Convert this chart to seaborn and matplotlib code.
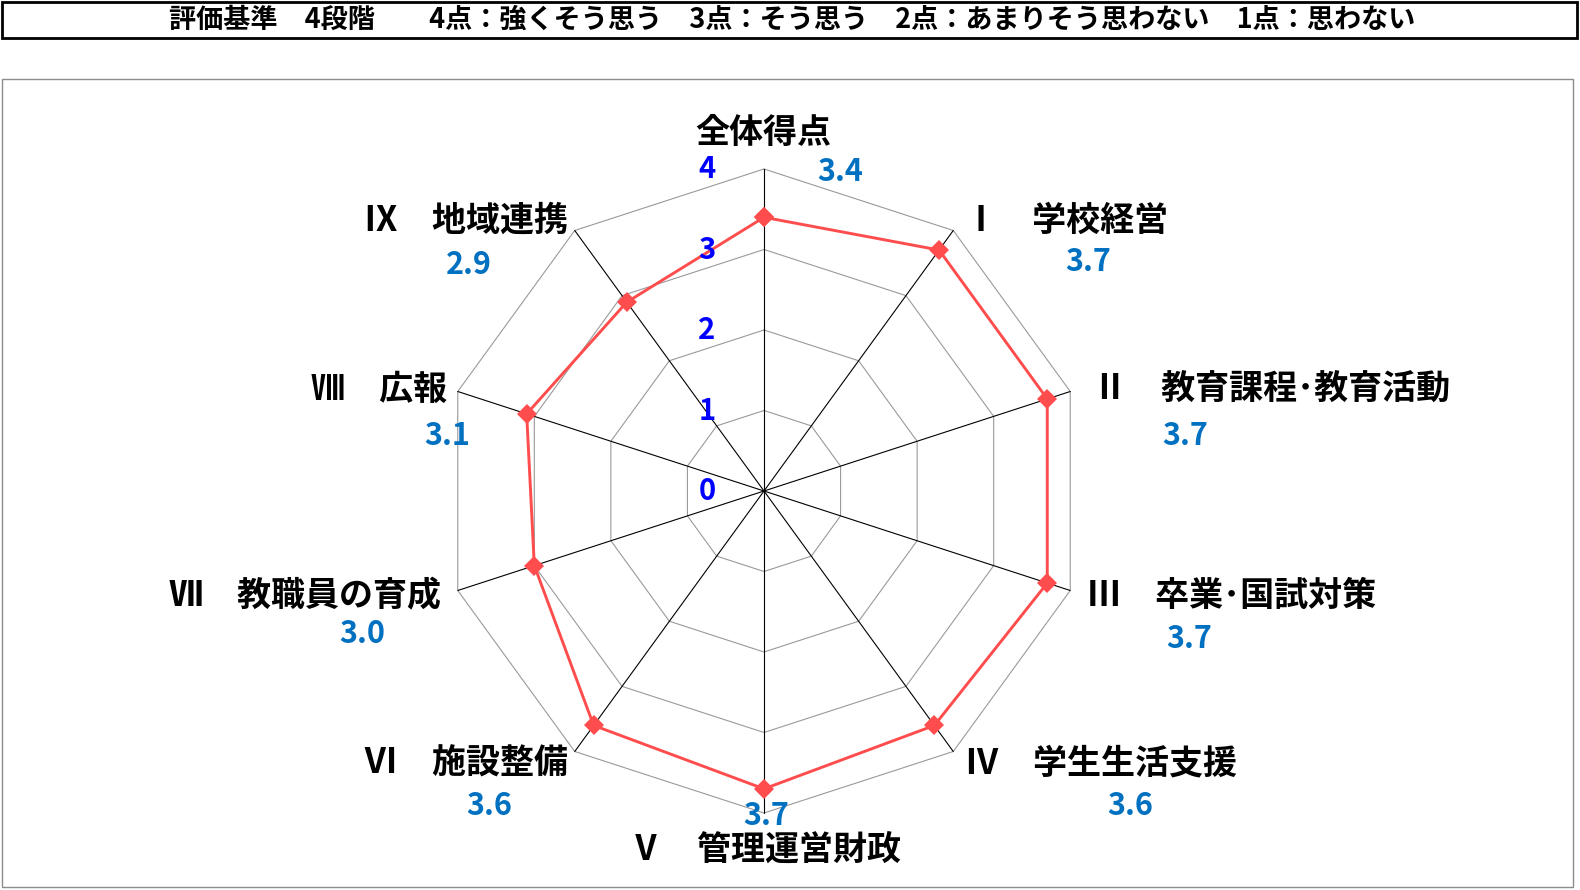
import numpy as np
import pandas as pd
import seaborn as sns
import matplotlib.pyplot as plt
from matplotlib.patches import Rectangle

# data
categories = ["全体得点", "Ⅰ　学校経営", "Ⅱ　教育課程･教育活動", "Ⅲ　卒業･国試対策",
              "Ⅳ　学生生活支援", "Ⅴ　管理運営財政", "Ⅵ　施設整備", "Ⅶ　教職員の育成",
              "Ⅷ　広報", "Ⅸ　地域連携"]
scores = [3.4, 3.7, 3.7, 3.7, 3.6, 3.7, 3.6, 3.0, 3.1, 2.9]
ring_levels = [0, 1, 2, 3, 4]
header = "評価基準　4段階　　4点：強くそう思う　3点：そう思う　2点：あまりそう思わない　1点：思わない"

# label offsets in pixels from each outer vertex (layout only)
label_off = [(-1, 36), (112, 10), (199, 2), (160, -5), (146, -11),
             (1, -36), (-108, -11), (-151, -5), (-78, 2), (-108, 10)]
value_off = [(75, -3), (134, -31), (114, -44), (118, -48), (175, -54),
             (2, -3), (-85, -54), (-95, -43), (-10, -44), (-105, -34)]
k = 1.01

sns.set_theme(style="white")
plt.rcParams['font.family'] = ['Noto Sans CJK JP', 'DejaVu Sans']

n = len(categories)
theta = np.arange(n) * 2 * np.pi / n
theta_closed = np.append(theta, theta[0] + 2 * np.pi)
df = pd.DataFrame({"theta": theta_closed, "score": scores + scores[:1]})

W, H = 1580, 890
fig = plt.figure(figsize=(W / 100, H / 100), dpi=100)

# header box and chart frame
fig.add_artist(Rectangle((2 / W, 1 - 38 / H), 1575 / W, 36 / H,
                         transform=fig.transFigure, fill=False, edgecolor='black', lw=2))
fig.text(792 / W, 1 - 20 / H, header, ha='center', va='center', fontsize=19.5,
         fontweight='bold', color='black')
fig.add_artist(Rectangle((2 / W, 1 - 887 / H), 1571 / W, 808 / H,
                         transform=fig.transFigure, fill=False, edgecolor='#8c8c8c', lw=1))

cx, cy, R = 764, 491, 322
ax = fig.add_axes([(cx - R) / W, (H - cy - R) / H, 2 * R / W, 2 * R / H], projection='polar')
ax.set_theta_zero_location('N')
ax.set_theta_direction(-1)
ax.set_ylim(0, max(ring_levels))
ax.grid(False)
ax.set_xticks([])
ax.set_yticks([])
ax.spines['polar'].set_visible(False)
ax.patch.set_alpha(0)

# polygon rings
for lvl in ring_levels[1:]:
    ax.plot(theta_closed, [lvl] * len(theta_closed), color='#9a9a9a', lw=0.8, clip_on=False)
# spokes
for t in theta:
    ax.plot([t, t], [0, max(ring_levels)], color='black', lw=0.8, clip_on=False)

sns.lineplot(data=df, x="theta", y="score", sort=False, estimator=None, ax=ax,
             color='#FF4D4D', lw=2.1, marker='D', markersize=10, markeredgewidth=0)
for line in ax.lines:
    line.set_clip_on(False)
ax.set_xlabel("")
ax.set_ylabel("")

# radial tick labels
for lvl in ring_levels:
    ax.annotate(str(lvl), xy=(0, lvl), xytext=(-57, 0), textcoords='offset pixels',
                ha='center', va='center', fontsize=21, fontweight='bold', color='#0000FF')

for i in range(n):
    ax.annotate(categories[i], xy=(theta[i], max(ring_levels)),
                xytext=(label_off[i][0] * k, label_off[i][1] * k),
                textcoords='offset pixels', ha='center', va='center',
                fontsize=24.5, fontweight='bold', color='black', annotation_clip=False)
    ax.annotate(f"{scores[i]:.1f}", xy=(theta[i], max(ring_levels)),
                xytext=(value_off[i][0] * k, value_off[i][1] * k),
                textcoords='offset pixels', ha='center', va='center',
                fontsize=22, fontweight='bold', color='#0070C0', annotation_clip=False)

fig.savefig("out.png", dpi=100)
